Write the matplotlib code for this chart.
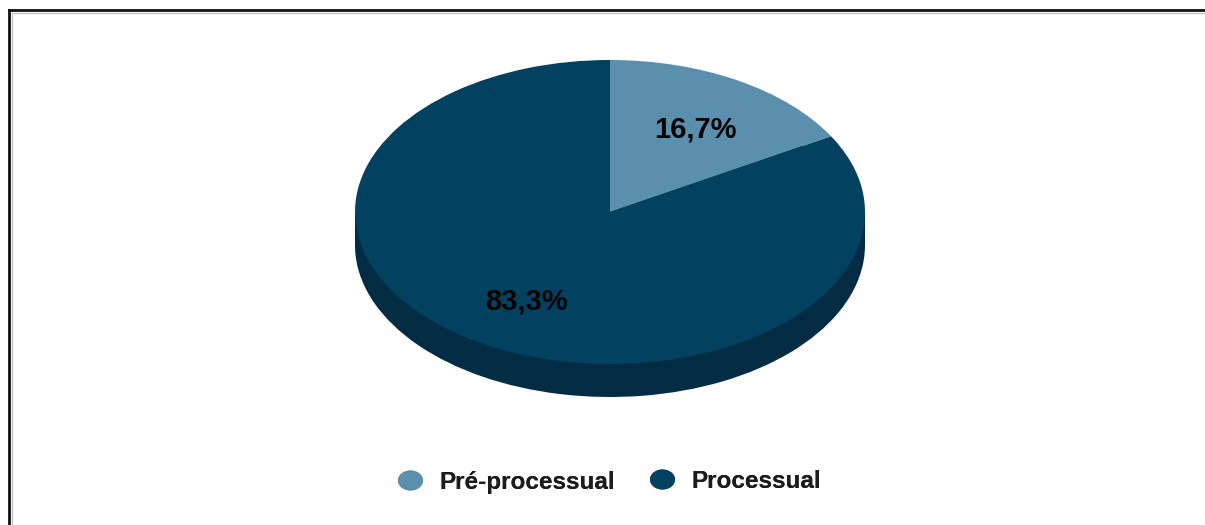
import matplotlib
matplotlib.use("Agg")
import matplotlib.pyplot as plt
import matplotlib.patches as patches
from matplotlib.lines import Line2D
from matplotlib.path import Path
from matplotlib.transforms import Affine2D

categories = ["Pré-processual", "Processual"]
values = [16.7, 83.3]
colors = ["#5a90ae", "#02415f"]
side_color = "#012c43"

W, H = 1205, 525
# ellipse geometry of the fake 3d pie, in pixels
CX, CY, RX, RY = 610, 212, 255, 152
DEPTH = 33


def pie_axes(fig, cy):
    ax = fig.add_axes([(CX - RX) / W, 1 - (cy + RY) / H, 2 * RX / W, 2 * RY / H])
    return ax


def squash(ax):
    # pie forces equal aspect, undo it to get the tilted look
    ax.set_aspect("auto")
    ax.set_xlim(-1, 1)
    ax.set_ylim(-1, 1)
    ax.axis("off")


fig = plt.figure(figsize=(W / 100, H / 100), dpi=100, facecolor="white")

# side wall first
side = pie_axes(fig, CY + DEPTH)
side.pie(values, colors=[side_color, side_color], startangle=90, counterclock=False)
side.add_patch(patches.Rectangle((-1, 0), 2, DEPTH / RY, color=side_color,
                                 clip_on=False, lw=0))
squash(side)

ax = pie_axes(fig, CY)
wedges, _ = ax.pie(values, colors=colors, startangle=90, counterclock=False)
squash(ax)

# value labels
label_font = dict(family="Liberation Sans", weight="bold", color="#050505",
                  size=21, ha="center", va="center")
label_pos = [(0.333, 0.545), (-0.329, -0.59)]
for v, (x, y) in zip(values, label_pos):
    ax.text(x, y, f"{v:.1f}%".replace(".", ","), **label_font)

# one legend per entry so each can sit where the source has it
oval = Path.unit_circle().transformed(Affine2D().scale(1.25, 1))
legend_x = [390.5, 642.5]
legend_y = [482, 481]  # the descender in the first label shifts its centre
for c, name, lx, ly in zip(colors, categories, legend_x, legend_y):
    h = Line2D([], [], linestyle="none", marker=oval, markersize=18,
               markerfacecolor=c, markeredgewidth=0)
    fig.add_artist(fig.legend([h], [name], loc="center left", frameon=False,
                              bbox_to_anchor=(lx / W, 1 - ly / H),
                              prop=dict(family="Liberation Sans", weight="bold", size=17.5),
                              labelcolor="#1c1c1c", handletextpad=0.43, handlelength=1.6,
                              borderpad=0, borderaxespad=0))

# black frame, only top and left are visible in the source
frame_x, frame_y = 8.5 / W, 1 - 10 / H
fig.add_artist(Line2D([frame_x, frame_x], [0, frame_y], color="#111111", lw=2))
fig.add_artist(Line2D([frame_x, 1], [frame_y, frame_y], color="#111111", lw=2))
# soft grey edge from the scan
fig.add_artist(Line2D([11.5 / W, 11.5 / W], [0, 1 - 13 / H], color="#c4c4c4", lw=1))
fig.add_artist(Line2D([11.5 / W, 1], [1 - 12.5 / H, 1 - 12.5 / H], color="#c4c4c4", lw=1))

fig.savefig("out.png", dpi=100, facecolor="white")
